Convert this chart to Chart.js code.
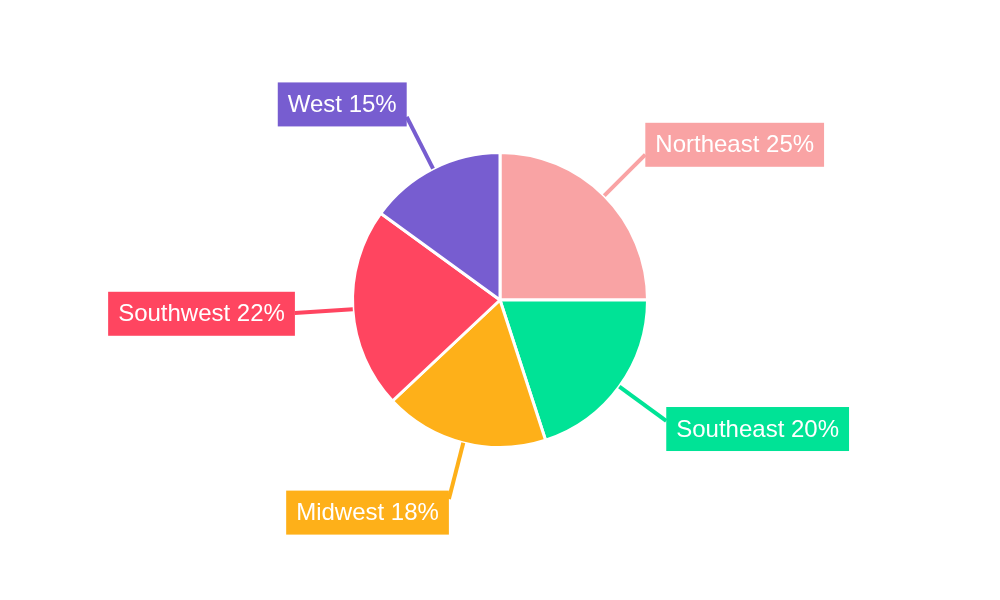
<!DOCTYPE html>
<html>
<head>
<meta charset="utf-8">
<script src="https://cdn.jsdelivr.net/npm/chart.js@4"></script>
<style>
  html, body { margin: 0; padding: 0; background: #fff; }
  #wrap { width: 1000px; height: 600px; }
</style>
</head>
<body>
<div id="wrap"><canvas id="pieChart"></canvas></div>
<script>
const regions = ["Northeast", "Southeast", "Midwest", "Southwest", "West"];
const shares = [25, 20, 18, 22, 15];
const sliceColors = ["#F9A3A4", "#00E396", "#FEB019", "#FF4560", "#775DD0"];

// draws the boxed labels with leader lines from the slice edge
const outLabels = {
    id: "outLabels",
    afterDatasetsDraw(chart) {
        const ctx = chart.ctx;
        const meta = chart.getDatasetMeta(0);
        ctx.save();
        ctx.font = "24px 'Liberation Sans', Arial, sans-serif";
        ctx.textBaseline = "middle";
        meta.data.forEach((arc, i) => {
            const p = arc.getProps(["x", "y", "startAngle", "endAngle", "outerRadius"], true);
            const mid = (p.startAngle + p.endAngle) / 2;
            const cos = Math.cos(mid), sin = Math.sin(mid);
            const ex = p.x + cos * p.outerRadius;
            const ey = p.y + sin * p.outerRadius;
            const ax = p.x + cos * (p.outerRadius + 58);
            const ay = p.y + sin * (p.outerRadius + 58);

            const text = regions[i] + " " + shares[i] + "%";
            const w = ctx.measureText(text).width + 20;
            const h = 44;
            const left = cos >= 0 ? ax : ax - w;
            const top = ay + sin * 14 - h / 2;

            ctx.strokeStyle = sliceColors[i];
            ctx.lineWidth = 4;
            ctx.beginPath();
            ctx.moveTo(ex, ey);
            ctx.lineTo(ax, ay);
            ctx.stroke();

            ctx.fillStyle = sliceColors[i];
            ctx.fillRect(left, top, w, h);
            ctx.fillStyle = "#ffffff";
            ctx.textAlign = "left";
            ctx.fillText(text, left + 10, top + h / 2 + 1);
        });
        ctx.restore();
    }
};

new Chart(document.getElementById("pieChart").getContext("2d"), {
    type: "pie",
    data: {
        labels: regions,
        datasets: [{
            data: shares,
            backgroundColor: sliceColors,
            borderColor: "#ffffff",
            borderWidth: 3
        }]
    },
    options: {
        responsive: true,
        maintainAspectRatio: false,
        animation: false,
        layout: { padding: { top: 151, bottom: 151 } },
        plugins: {
            legend: { display: false },
            tooltip: { enabled: false }
        }
    },
    plugins: [outLabels]
});
</script>
</body>
</html>
